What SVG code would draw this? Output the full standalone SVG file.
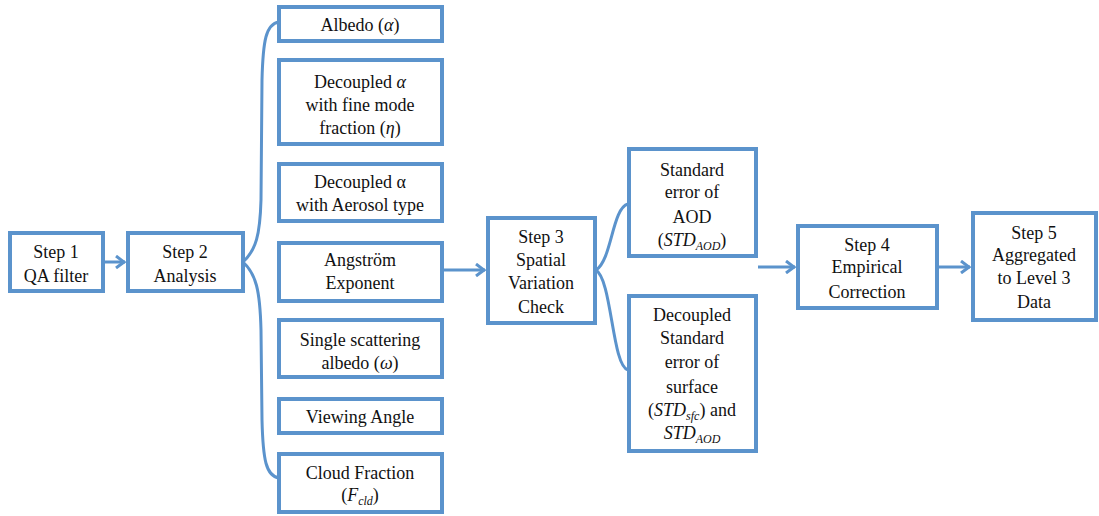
<svg xmlns="http://www.w3.org/2000/svg" width="1099" height="516" viewBox="0 0 1099 516">
<defs>
<style>
.box{fill:#fff;stroke:#5B93CC;stroke-width:4}
.con{fill:none;stroke:#5B93CC;stroke-width:3}
.t{font-family:'Liberation Serif',serif;font-size:18px;fill:#111;text-anchor:middle}
.i{font-style:italic}
.s{font-size:12px;font-style:italic}
</style>
<marker id="ah" viewBox="0 0 12 14" refX="11" refY="7" markerWidth="12" markerHeight="14" markerUnits="userSpaceOnUse" orient="auto">
<polyline points="2,1 10,7 2,13" fill="none" stroke="#5B93CC" stroke-width="3"/>
</marker>
</defs>
<rect width="1099" height="516" fill="#fff"/>
<g id="connectors">
<line class="con" x1="104" y1="262" x2="125" y2="262" marker-end="url(#ah)"/>
<path class="con" d="M243,262 C256,250 260,235 261,200 L262,80 C263,40 266,24 279,22"/>
<path class="con" d="M243,262 C256,274 260,290 261,330 L262,420 C263,460 266,476 279,478"/>
<line class="con" x1="444" y1="270" x2="485" y2="270" marker-end="url(#ah)"/>
<path class="con" d="M596,270 C612,260 612,208 628,204"/>
<path class="con" d="M596,270 C612,280 612,366 628,370"/>
<line class="con" x1="758" y1="267" x2="795" y2="267" marker-end="url(#ah)"/>
<line class="con" x1="938" y1="267" x2="970" y2="267" marker-end="url(#ah)"/>
</g>
<g id="step1"><rect class="box" x="10" y="233" width="93" height="58"/><text class="t" font-family="Liberation Serif" x="56" y="258">Step 1</text><text class="t" font-family="Liberation Serif" x="56" y="282">QA filter</text></g>
<g id="step2"><rect class="box" x="128" y="233" width="115" height="58"/><text class="t" font-family="Liberation Serif" x="185" y="258">Step 2</text><text class="t" font-family="Liberation Serif" x="185" y="282">Analysis</text></g>
<g id="albedo"><rect class="box" x="279" y="7" width="163" height="34"/><text class="t" font-family="Liberation Serif" x="360" y="31">Albedo (<tspan class="i">α</tspan>)</text></g>
<g id="decoupled-fmf"><rect class="box" x="279" y="60" width="163" height="84"/><text class="t" font-family="Liberation Serif" x="360" y="88">Decoupled <tspan class="i">α</tspan></text><text class="t" font-family="Liberation Serif" x="360" y="111">with fine mode</text><text class="t" font-family="Liberation Serif" x="360" y="134">fraction (<tspan class="i">η</tspan>)</text></g>
<g id="decoupled-type"><rect class="box" x="279" y="164" width="163" height="57"/><text class="t" font-family="Liberation Serif" x="360" y="188">Decoupled α</text><text class="t" font-family="Liberation Serif" x="360" y="211">with Aerosol type</text></g>
<g id="angstrom"><rect class="box" x="279" y="243" width="163" height="58"/><text class="t" font-family="Liberation Serif" x="360" y="266">Angström</text><text class="t" font-family="Liberation Serif" x="360" y="289">Exponent</text></g>
<g id="ssa"><rect class="box" x="279" y="320" width="163" height="57"/><text class="t" font-family="Liberation Serif" x="360" y="346">Single scattering</text><text class="t" font-family="Liberation Serif" x="360" y="369">albedo (<tspan class="i">ω</tspan>)</text></g>
<g id="viewing"><rect class="box" x="279" y="399" width="163" height="34"/><text class="t" font-family="Liberation Serif" x="360" y="423">Viewing Angle</text></g>
<g id="cloud"><rect class="box" x="279" y="454" width="163" height="58"/><text class="t" font-family="Liberation Serif" x="360" y="479">Cloud Fraction</text><text class="t" font-family="Liberation Serif" x="360" y="501">(<tspan class="i">F</tspan><tspan class="s" dy="4">cld</tspan><tspan dy="-4">)</tspan></text></g>
<g id="step3"><rect class="box" x="488" y="218" width="107" height="105"/><text class="t" font-family="Liberation Serif" x="541" y="243">Step 3</text><text class="t" font-family="Liberation Serif" x="541" y="266">Spatial</text><text class="t" font-family="Liberation Serif" x="541" y="289">Variation</text><text class="t" font-family="Liberation Serif" x="541" y="313">Check</text></g>
<g id="stderr-aod"><rect class="box" x="629" y="149" width="127" height="107"/><text class="t" font-family="Liberation Serif" x="692" y="176">Standard</text><text class="t" font-family="Liberation Serif" x="692" y="198">error of</text><text class="t" font-family="Liberation Serif" x="692" y="223">AOD</text><text class="t" font-family="Liberation Serif" x="692" y="246">(<tspan class="i">STD</tspan><tspan class="s" dy="4">AOD</tspan><tspan dy="-4">)</tspan></text></g>
<g id="stderr-sfc"><rect class="box" x="629" y="296" width="127" height="155"/><text class="t" font-family="Liberation Serif" x="692" y="321">Decoupled</text><text class="t" font-family="Liberation Serif" x="692" y="344">Standard</text><text class="t" font-family="Liberation Serif" x="692" y="368">error of</text><text class="t" font-family="Liberation Serif" x="692" y="393">surface</text><text class="t" font-family="Liberation Serif" x="692" y="416">(<tspan class="i">STD</tspan><tspan class="s" dy="4">sfc</tspan><tspan dy="-4">) and</tspan></text><text class="t" font-family="Liberation Serif" x="692" y="439"><tspan class="i">STD</tspan><tspan class="s" dy="4">AOD</tspan></text></g>
<g id="step4"><rect class="box" x="798" y="226" width="139" height="82"/><text class="t" font-family="Liberation Serif" x="867" y="251">Step 4</text><text class="t" font-family="Liberation Serif" x="867" y="273">Empirical</text><text class="t" font-family="Liberation Serif" x="867" y="298">Correction</text></g>
<g id="step5"><rect class="box" x="973" y="213" width="123" height="107"/><text class="t" font-family="Liberation Serif" x="1034" y="239">Step 5</text><text class="t" font-family="Liberation Serif" x="1034" y="261">Aggregated</text><text class="t" font-family="Liberation Serif" x="1034" y="284">to Level 3</text><text class="t" font-family="Liberation Serif" x="1034" y="308">Data</text></g>
</svg>
